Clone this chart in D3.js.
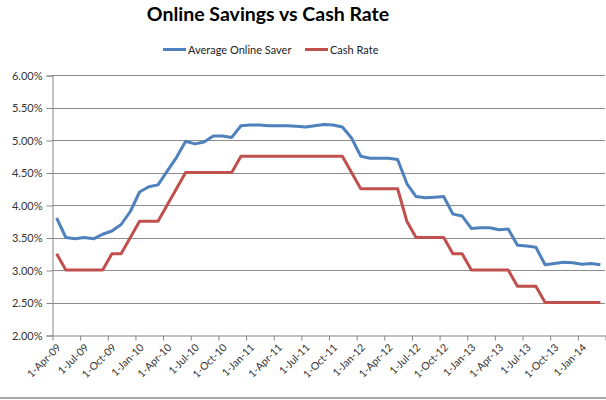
<!DOCTYPE html>
<html>
<head>
<meta charset="utf-8">
<script src="https://cdn.jsdelivr.net/npm/d3@7"></script>
<style>
  html, body { margin: 0; padding: 0; background: #fff; }
  svg { display: block; }
</style>
</head>
<body>
<svg id="chart" width="606" height="400"></svg>
<script>
// ---- Data (monthly, 1-Apr-09 .. 1-Mar-14) ----
const months = d3.range(60); // month index from Apr-09
const onlineSaver = [
  3.80, 3.50, 3.48, 3.50, 3.48, 3.55, 3.60, 3.70, 3.90, 4.20,
  4.28, 4.31, 4.52, 4.73, 4.98, 4.94, 4.97, 5.06, 5.06, 5.04,
  5.22, 5.23, 5.23, 5.22, 5.22, 5.22, 5.21, 5.20, 5.22, 5.24,
  5.23, 5.20, 5.03, 4.75, 4.72, 4.72, 4.72, 4.70, 4.33, 4.13,
  4.11, 4.12, 4.13, 3.86, 3.83, 3.64, 3.65, 3.65, 3.62, 3.63,
  3.38, 3.37, 3.35, 3.08, 3.10, 3.12, 3.11, 3.09, 3.10, 3.08
];
const cashRate = [
  3.25, 3.00, 3.00, 3.00, 3.00, 3.00, 3.25, 3.25, 3.50, 3.75,
  3.75, 3.75, 4.00, 4.25, 4.50, 4.50, 4.50, 4.50, 4.50, 4.50,
  4.75, 4.75, 4.75, 4.75, 4.75, 4.75, 4.75, 4.75, 4.75, 4.75,
  4.75, 4.75, 4.50, 4.25, 4.25, 4.25, 4.25, 4.25, 3.75, 3.50,
  3.50, 3.50, 3.50, 3.25, 3.25, 3.00, 3.00, 3.00, 3.00, 3.00,
  2.75, 2.75, 2.75, 2.50, 2.50, 2.50, 2.50, 2.50, 2.50, 2.50
];
const xTickLabels = [
  "1-Apr-09","1-Jul-09","1-Oct-09","1-Jan-10","1-Apr-10","1-Jul-10","1-Oct-10",
  "1-Jan-11","1-Apr-11","1-Jul-11","1-Oct-11","1-Jan-12","1-Apr-12","1-Jul-12",
  "1-Oct-12","1-Jan-13","1-Apr-13","1-Jul-13","1-Oct-13","1-Jan-14",""
];
const yTicks = [2.0, 2.5, 3.0, 3.5, 4.0, 4.5, 5.0, 5.5, 6.0];
const seriesNames = ["Average Online Saver", "Cash Rate"];
const colors = ["#4F81BD", "#C0504D"];

// ---- Layout ----
const svg = d3.select("#chart");
const font = "Lato, 'Open Sans', sans-serif";
const plotLeft = 52, plotRight = 605, plotTop = 75, plotBottom = 335;

const x = d3.scaleLinear().domain([0, 60]).range([plotLeft, plotRight]);
const y = d3.scaleLinear().domain([2, 6]).range([plotBottom, plotTop]);

// Title
svg.append("text")
  .attr("x", 268).attr("y", 21)
  .attr("text-anchor", "middle")
  .attr("font-family", font).attr("font-weight", "bold")
  .attr("font-size", 19.5).attr("fill", "#000")
  .text("Online Savings vs Cash Rate");

// Legend
const legendItems = [
  {name: seriesNames[0], color: colors[0], x0: 163, tx: 188},
  {name: seriesNames[1], color: colors[1], x0: 305, tx: 330}
];
legendItems.forEach(d => {
  svg.append("line").attr("x1", d.x0).attr("x2", d.x0 + 23)
    .attr("y1", 49.5).attr("y2", 49.5)
    .attr("stroke", d.color).attr("stroke-width", 3);
  svg.append("text").attr("x", d.tx).attr("y", 53.5)
    .attr("font-family", font).attr("font-size", 11).attr("fill", "#222")
    .text(d.name);
});

// Gridlines
svg.append("g").selectAll("line").data(yTicks.filter(t => t > 2)).join("line")
  .attr("x1", plotLeft).attr("x2", plotRight)
  .attr("y1", d => Math.round(y(d)) + 0.5).attr("y2", d => Math.round(y(d)) + 0.5)
  .attr("stroke", "#8c8c8c").attr("stroke-width", 1);

// Y axis
const yAxis = d3.axisLeft(y).tickValues(yTicks)
  .tickFormat(d => d.toFixed(2) + "%").tickSize(6).tickPadding(8);
const gy = svg.append("g").attr("transform", `translate(${plotLeft + 0.5},0.5)`).call(yAxis);
gy.select(".domain").attr("stroke", "#868686");
gy.selectAll(".tick line").attr("stroke", "#868686");
gy.selectAll(".tick text").attr("font-family", font).attr("font-size", 11)
  .attr("fill", "#333").attr("dy", "0.35em").attr("x", -10);

// X axis
const xAxis = d3.axisBottom(x).tickValues(d3.range(0, 61, 3))
  .tickFormat((d, i) => xTickLabels[i]).tickSize(5).tickSizeOuter(0);
const gx = svg.append("g").attr("transform", `translate(0.5,${plotBottom + 0.5})`).call(xAxis);
gx.select(".domain").attr("stroke", "#868686");
gx.selectAll(".tick line").attr("stroke", "#868686");
gx.selectAll(".tick text")
  .attr("font-family", font).attr("font-size", 10.5).attr("fill", "#333")
  .attr("text-anchor", "end")
  .attr("transform", "translate(6,10) rotate(-45)")
  .attr("x", 0).attr("y", 0).attr("dy", "0.35em");

// Lines
const line = d3.line().x((d, i) => x(i + 0.5)).y(d => y(d));
[onlineSaver, cashRate].forEach((s, k) => {
  svg.append("path").datum(s)
    .attr("fill", "none").attr("stroke", colors[k])
    .attr("stroke-width", 3).attr("stroke-linejoin", "round")
    .attr("d", line);
});

// Bottom border
svg.append("rect").attr("x", 0).attr("y", 397).attr("width", 606).attr("height", 2)
  .attr("fill", "#a6a6a6");
</script>
</body>
</html>
